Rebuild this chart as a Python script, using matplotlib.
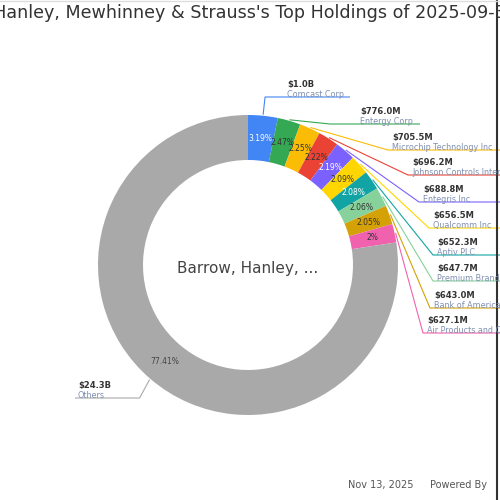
import matplotlib
matplotlib.use('Agg')
import matplotlib.pyplot as plt
import numpy as np

# ---- data ----
holding_names = ["Comcast Corp", "Entergy Corp", "Microchip Technology Inc",
                 "Johnson Controls International PLC", "Entegris Inc", "Qualcomm Inc",
                 "Aptiv PLC", "Premium Brands Holdings Corp", "Bank of America Corp",
                 "Air Products and Chemicals Inc", "Others"]
holding_values_musd = [1000.0, 776.0, 705.5, 696.2, 688.8, 656.5, 652.3, 647.7, 643.0, 627.1, 24300.0]
slice_colors = ["#4285F4", "#34A853", "#FBBC05", "#EA4335", "#7B61FF", "#FFD600",
                "#12A4A4", "#86D29A", "#D4A106", "#F062AE", "#A9A9A9"]
pct_text_colors = ["white", "#333333", "#333333", "#333333", "white", "#333333",
                   "white", "#333333", "#333333", "#333333", "#444444"]
title_text = "Barrow, Hanley, Mewhinney & Strauss's Top Holdings of 2025-09-30"
center_text = "Barrow, Hanley, ..."
footer_date = "Nov 13, 2025"
footer_credit = "Powered By"


def fmt_value(v):
    return f"${v/1000:.1f}B" if v >= 1000 else f"${v:.1f}M"


def fmt_pct(p):
    s = f"{p:.2f}".rstrip('0').rstrip('.')
    return s + "%"


# ---- layout (pixel space, y measured from top) ----
W = H = 500
cx, cy, R, ring = 248, 265, 150, 45
label_pos = [(287, 80), (360, 107), (392, 133), (412, 158), (423, 185), (433, 211),
             (437, 238), (437, 264), (434, 291), (427, 316), (78, 381)]
line_end_x = [350, 420, 500, 500, 500, 500, 500, 500, 500, 500, 75]


def P(y):
    return H - y


fig = plt.figure(figsize=(5, 5), dpi=100)
ax = fig.add_axes([0, 0, 1, 1])

wedges, _ = ax.pie(holding_values_musd, colors=slice_colors, startangle=90,
                   counterclock=False, radius=R, center=(cx, P(cy)),
                   wedgeprops=dict(width=ring, edgecolor='none'))
ax.set_xlim(0, W)
ax.set_ylim(0, H)
ax.set_aspect('equal')
ax.axis('off')

total = sum(holding_values_musd)
for i, wdg in enumerate(wedges):
    mid = np.deg2rad((wdg.theta1 + wdg.theta2) / 2)
    rm = R - ring / 2
    px, py = cx + rm * np.cos(mid), P(cy) + rm * np.sin(mid)
    ax.text(px, py, fmt_pct(holding_values_musd[i] / total * 100), ha='center', va='center',
            fontsize=5.5, color=pct_text_colors[i])
    sx, sy = cx + (R + 1) * np.cos(mid), P(cy) + (R + 1) * np.sin(mid)
    lx, ly = label_pos[i]
    line_y = P(ly + 17)
    if i == 0:
        xs = [sx, sx + 2, line_end_x[i]]
    elif i == len(wedges) - 1:
        xs = [sx, sx - 10, line_end_x[i]]
    else:
        ex = lx - 4 if i > 1 else lx - 30
        xs = [sx, ex, line_end_x[i]]
    ys = [sy, line_y, line_y]
    ax.plot(xs, ys, color=wdg.get_facecolor(), lw=0.8, solid_capstyle='butt')
    ax.text(lx, P(ly), fmt_value(holding_values_musd[i]), ha='left', va='top',
            fontsize=6, fontweight='bold', color='#333333')
    ax.text(lx, P(ly + 10), holding_names[i], ha='left', va='top',
            fontsize=5.8, color='#7f8fb0')

ax.text(cx, P(cy + 3), center_text, ha='center', va='center', fontsize=11, color='#444444')
ax.text(-80, P(4), title_text, ha='left', va='top', fontsize=12.6, color='#333333')
ax.text(348, P(485), footer_date, ha='left', va='center', fontsize=7, color='#555555')
ax.text(430, P(485), footer_credit, ha='left', va='center', fontsize=7, color='#555555')
ax.plot([497, 497], [0, H], color='#333333', lw=1.5)
ax.plot([0, W], [H - 0.5, H - 0.5], color='#dddddd', lw=1)

fig.savefig("out.png", dpi=100)
